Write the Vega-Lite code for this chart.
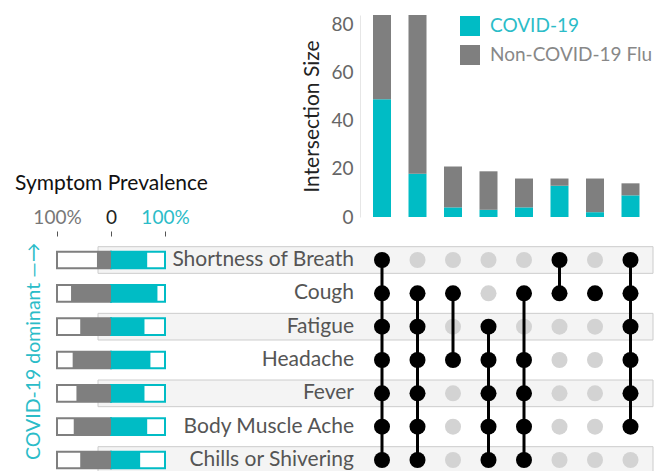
{
  "$schema": "https://vega.github.io/schema/vega-lite/v6.json",
  "width": 655,
  "height": 471,
  "autosize": "none",
  "padding": 0,
  "config": {"view": {"stroke": null}, "font": "Lato", "text": {"font": "Lato"}},
  "datasets": {
    "bars": [
      {"set": 1, "type": "COVID-19", "count": 49}, {"set": 1, "type": "Non-COVID-19 Flu", "count": 35},
      {"set": 2, "type": "COVID-19", "count": 18}, {"set": 2, "type": "Non-COVID-19 Flu", "count": 66},
      {"set": 3, "type": "COVID-19", "count": 4}, {"set": 3, "type": "Non-COVID-19 Flu", "count": 17},
      {"set": 4, "type": "COVID-19", "count": 3}, {"set": 4, "type": "Non-COVID-19 Flu", "count": 16},
      {"set": 5, "type": "COVID-19", "count": 4}, {"set": 5, "type": "Non-COVID-19 Flu", "count": 12},
      {"set": 6, "type": "COVID-19", "count": 13}, {"set": 6, "type": "Non-COVID-19 Flu", "count": 3},
      {"set": 7, "type": "COVID-19", "count": 2}, {"set": 7, "type": "Non-COVID-19 Flu", "count": 14},
      {"set": 8, "type": "COVID-19", "count": 9}, {"set": 8, "type": "Non-COVID-19 Flu", "count": 5}
    ],
    "symptoms": [
      {"symptom": "Shortness of Breath", "rank": 1, "flu": 0.26, "covid": 0.67},
      {"symptom": "Cough", "rank": 2, "flu": 0.74, "covid": 0.86},
      {"symptom": "Fatigue", "rank": 3, "flu": 0.57, "covid": 0.62},
      {"symptom": "Headache", "rank": 4, "flu": 0.71, "covid": 0.73},
      {"symptom": "Fever", "rank": 5, "flu": 0.64, "covid": 0.62},
      {"symptom": "Body Muscle Ache", "rank": 6, "flu": 0.69, "covid": 0.67},
      {"symptom": "Chills or Shivering", "rank": 7, "flu": 0.57, "covid": 0.54}
    ],
    "matrix": [
      {"set": 1, "symptom": "Shortness of Breath", "member": 1}, {"set": 1, "symptom": "Cough", "member": 1}, {"set": 1, "symptom": "Fatigue", "member": 1}, {"set": 1, "symptom": "Headache", "member": 1}, {"set": 1, "symptom": "Fever", "member": 1}, {"set": 1, "symptom": "Body Muscle Ache", "member": 1}, {"set": 1, "symptom": "Chills or Shivering", "member": 1},
      {"set": 2, "symptom": "Shortness of Breath", "member": 0}, {"set": 2, "symptom": "Cough", "member": 1}, {"set": 2, "symptom": "Fatigue", "member": 1}, {"set": 2, "symptom": "Headache", "member": 1}, {"set": 2, "symptom": "Fever", "member": 1}, {"set": 2, "symptom": "Body Muscle Ache", "member": 1}, {"set": 2, "symptom": "Chills or Shivering", "member": 1},
      {"set": 3, "symptom": "Shortness of Breath", "member": 0}, {"set": 3, "symptom": "Cough", "member": 1}, {"set": 3, "symptom": "Fatigue", "member": 0}, {"set": 3, "symptom": "Headache", "member": 1}, {"set": 3, "symptom": "Fever", "member": 0}, {"set": 3, "symptom": "Body Muscle Ache", "member": 0}, {"set": 3, "symptom": "Chills or Shivering", "member": 0},
      {"set": 4, "symptom": "Shortness of Breath", "member": 0}, {"set": 4, "symptom": "Cough", "member": 0}, {"set": 4, "symptom": "Fatigue", "member": 1}, {"set": 4, "symptom": "Headache", "member": 1}, {"set": 4, "symptom": "Fever", "member": 1}, {"set": 4, "symptom": "Body Muscle Ache", "member": 1}, {"set": 4, "symptom": "Chills or Shivering", "member": 1},
      {"set": 5, "symptom": "Shortness of Breath", "member": 0}, {"set": 5, "symptom": "Cough", "member": 1}, {"set": 5, "symptom": "Fatigue", "member": 0}, {"set": 5, "symptom": "Headache", "member": 1}, {"set": 5, "symptom": "Fever", "member": 1}, {"set": 5, "symptom": "Body Muscle Ache", "member": 1}, {"set": 5, "symptom": "Chills or Shivering", "member": 1},
      {"set": 6, "symptom": "Shortness of Breath", "member": 1}, {"set": 6, "symptom": "Cough", "member": 1}, {"set": 6, "symptom": "Fatigue", "member": 0}, {"set": 6, "symptom": "Headache", "member": 0}, {"set": 6, "symptom": "Fever", "member": 0}, {"set": 6, "symptom": "Body Muscle Ache", "member": 0}, {"set": 6, "symptom": "Chills or Shivering", "member": 0},
      {"set": 7, "symptom": "Shortness of Breath", "member": 0}, {"set": 7, "symptom": "Cough", "member": 1}, {"set": 7, "symptom": "Fatigue", "member": 0}, {"set": 7, "symptom": "Headache", "member": 0}, {"set": 7, "symptom": "Fever", "member": 0}, {"set": 7, "symptom": "Body Muscle Ache", "member": 0}, {"set": 7, "symptom": "Chills or Shivering", "member": 0},
      {"set": 8, "symptom": "Shortness of Breath", "member": 1}, {"set": 8, "symptom": "Cough", "member": 1}, {"set": 8, "symptom": "Fatigue", "member": 1}, {"set": 8, "symptom": "Headache", "member": 1}, {"set": 8, "symptom": "Fever", "member": 1}, {"set": 8, "symptom": "Body Muscle Ache", "member": 1}, {"set": 8, "symptom": "Chills or Shivering", "member": 0}
    ]
  },
  "resolve": {"scale": {"x": "independent", "y": "independent"}},
  "layer": [
    {
      "data": {"name": "symptoms"},
      "transform": [{"filter": "datum.rank % 2 == 1"}],
      "mark": {"type": "bar", "height": {"band": 0.8}, "fill": "#f4f4f4", "stroke": "#cccccc", "strokeWidth": 1},
      "encoding": {
        "y": {"field": "rank", "type": "ordinal", "scale": {"type": "band", "domain": [1, 2, 3, 4, 5, 6, 7], "range": [243.33, 476.67], "paddingInner": 0, "paddingOuter": 0}, "axis": null},
        "x": {"datum": 0, "type": "quantitative", "scale": {"domain": [0, 1], "range": [98, 653]}, "axis": null},
        "x2": {"datum": 1}
      }
    },
    {
      "data": {"name": "symptoms"},
      "mark": {"type": "text", "align": "right", "baseline": "middle", "fontSize": 21, "color": "#555555"},
      "encoding": {
        "y": {"field": "rank", "type": "quantitative", "scale": {"domain": [1, 7], "range": [260, 460]}, "axis": null},
        "x": {"datum": 1, "type": "quantitative", "scale": {"domain": [0, 1], "range": [0, 354]}, "axis": null},
        "text": {"field": "symptom"}
      }
    },
    {
      "data": {"name": "symptoms"},
      "mark": {"type": "bar", "height": {"band": 0.5}, "fill": "white", "stroke": "#7f7f7f", "strokeWidth": 2},
      "encoding": {
        "y": {"field": "rank", "type": "ordinal", "scale": {"type": "band", "domain": [1, 2, 3, 4, 5, 6, 7], "range": [243.33, 476.67], "paddingInner": 0, "paddingOuter": 0}, "axis": null},
        "x": {"datum": -1, "type": "quantitative", "scale": {"domain": [-1, 1], "range": [57, 165]},
          "axis": {"orient": "top", "offset": -236, "values": [-1, 0, 1], "labelExpr": "datum.value == 0 ? '0' : '100%'", "domain": false, "grid": false, "ticks": true, "tickSize": 5, "tickColor": "#555555", "tickWidth": 1, "labelFontSize": 19, "labelPadding": 4, "labelFlush": false, "labelOverlap": false,
            "labelColor": {"condition": [{"test": "datum.value < 0", "value": "#777777"}, {"test": "datum.value > 0", "value": "#2bbcc8"}], "value": "#222222"},
            "title": "Symptom Prevalence", "titleFontSize": 21, "titleFontWeight": "normal", "titleColor": "#111111", "titlePadding": 15}},
        "x2": {"datum": 0}
      }
    },
    {
      "data": {"name": "symptoms"},
      "mark": {"type": "bar", "height": {"band": 0.5}, "fill": "white", "stroke": "#00bcc5", "strokeWidth": 2},
      "encoding": {
        "y": {"field": "rank", "type": "ordinal", "scale": {"type": "band", "domain": [1, 2, 3, 4, 5, 6, 7], "range": [243.33, 476.67], "paddingInner": 0, "paddingOuter": 0}, "axis": null},
        "x": {"datum": 0, "type": "quantitative", "scale": {"domain": [-1, 1], "range": [57, 165]}, "axis": null},
        "x2": {"datum": 1}
      }
    },
    {
      "data": {"name": "symptoms"},
      "mark": {"type": "bar", "height": {"band": 0.5}, "color": "#7f7f7f"},
      "encoding": {
        "y": {"field": "rank", "type": "ordinal", "scale": {"type": "band", "domain": [1, 2, 3, 4, 5, 6, 7], "range": [243.33, 476.67], "paddingInner": 0, "paddingOuter": 0}, "axis": null},
        "x": {"field": "flu", "type": "quantitative", "scale": {"domain": [0, 1], "range": [111, 57]}, "axis": null},
        "x2": {"datum": 0}
      }
    },
    {
      "data": {"name": "symptoms"},
      "mark": {"type": "bar", "height": {"band": 0.5}, "color": "#00bcc5"},
      "encoding": {
        "y": {"field": "rank", "type": "ordinal", "scale": {"type": "band", "domain": [1, 2, 3, 4, 5, 6, 7], "range": [243.33, 476.67], "paddingInner": 0, "paddingOuter": 0}, "axis": null},
        "x": {"field": "covid", "type": "quantitative", "scale": {"domain": [0, 1], "range": [111, 165]}, "axis": null},
        "x2": {"datum": 0}
      }
    },
    {
      "data": {"values": [{}]},
      "mark": {"type": "text", "text": "COVID-19 dominant —→", "angle": 270, "align": "left", "baseline": "middle", "fontSize": 19.5, "color": "#2bbcc8"},
      "encoding": {
        "x": {"datum": -1.43, "type": "quantitative", "scale": {"domain": [-1, 1], "range": [57, 165]}, "axis": null},
        "y": {"datum": 7, "type": "quantitative", "scale": {"domain": [1, 7], "range": [260, 460]}, "axis": null}
      }
    },
    {
      "data": {"name": "bars"},
      "mark": {"type": "bar", "width": 18},
      "encoding": {
        "x": {"field": "set", "type": "ordinal", "scale": {"type": "band", "domain": [1, 2, 3, 4, 5, 6, 7, 8], "range": [364.25, 648.25], "paddingInner": 0, "paddingOuter": 0}, "axis": null},
        "y": {"field": "count", "type": "quantitative", "stack": "zero", "scale": {"domain": [0, 84], "range": [217, 15]},
          "axis": {"orient": "left", "offset": -360, "values": [0, 20, 40, 60, 80], "ticks": false, "domain": true, "domainColor": "#e6e6e6", "domainWidth": 1, "grid": false, "labelFontSize": 19, "labelColor": "#666666", "labelPadding": 7, "title": "Intersection Size", "titleFontSize": 21, "titleFontWeight": "normal", "titleColor": "#222222", "titlePadding": 8}},
        "color": {"field": "type", "type": "nominal", "scale": {"domain": ["COVID-19", "Non-COVID-19 Flu"], "range": ["#00bcc5", "#7f7f7f"]},
          "legend": {"orient": "none", "legendX": 460, "legendY": 16, "title": null, "symbolType": "square", "symbolSize": 400, "symbolStrokeWidth": 0, "labelFontSize": 19, "labelOffset": 10, "rowPadding": 9, "labelLimit": 300,
            "encode": {"labels": {"update": {"fill": {"signal": "datum.label === 'COVID-19' ? '#2bbcc8' : '#888888'"}}}}}},
        "order": {"field": "type", "sort": "ascending"}
      }
    },
    {
      "data": {"name": "matrix"},
      "transform": [{"lookup": "symptom", "from": {"data": {"name": "symptoms"}, "key": "symptom", "fields": ["rank"]}}, {"filter": "datum.member == 0"}],
      "mark": {"type": "circle", "size": 256, "color": "#d3d3d3", "opacity": 1},
      "encoding": {
        "x": {"field": "set", "type": "ordinal", "scale": {"type": "band", "domain": [1, 2, 3, 4, 5, 6, 7, 8], "range": [364.25, 648.25], "paddingInner": 0, "paddingOuter": 0}, "axis": null},
        "y": {"field": "rank", "type": "quantitative", "scale": {"domain": [1, 7], "range": [260, 460]}, "axis": null}
      }
    },
    {
      "data": {"name": "matrix"},
      "transform": [{"lookup": "symptom", "from": {"data": {"name": "symptoms"}, "key": "symptom", "fields": ["rank"]}}, {"filter": "datum.member == 1"}, {"aggregate": [{"op": "min", "field": "rank", "as": "r0"}, {"op": "max", "field": "rank", "as": "r1"}], "groupby": ["set"]}],
      "mark": {"type": "rule", "strokeWidth": 3, "color": "#000000"},
      "encoding": {
        "x": {"field": "set", "type": "ordinal", "scale": {"type": "band", "domain": [1, 2, 3, 4, 5, 6, 7, 8], "range": [364.25, 648.25], "paddingInner": 0, "paddingOuter": 0}, "axis": null},
        "y": {"field": "r0", "type": "quantitative", "scale": {"domain": [1, 7], "range": [260, 460]}, "axis": null},
        "y2": {"field": "r1"}
      }
    },
    {
      "data": {"name": "matrix"},
      "transform": [{"lookup": "symptom", "from": {"data": {"name": "symptoms"}, "key": "symptom", "fields": ["rank"]}}, {"filter": "datum.member == 1"}],
      "mark": {"type": "circle", "size": 256, "color": "#000000", "opacity": 1},
      "encoding": {
        "x": {"field": "set", "type": "ordinal", "scale": {"type": "band", "domain": [1, 2, 3, 4, 5, 6, 7, 8], "range": [364.25, 648.25], "paddingInner": 0, "paddingOuter": 0}, "axis": null},
        "y": {"field": "rank", "type": "quantitative", "scale": {"domain": [1, 7], "range": [260, 460]}, "axis": null}
      }
    }
  ]
}
